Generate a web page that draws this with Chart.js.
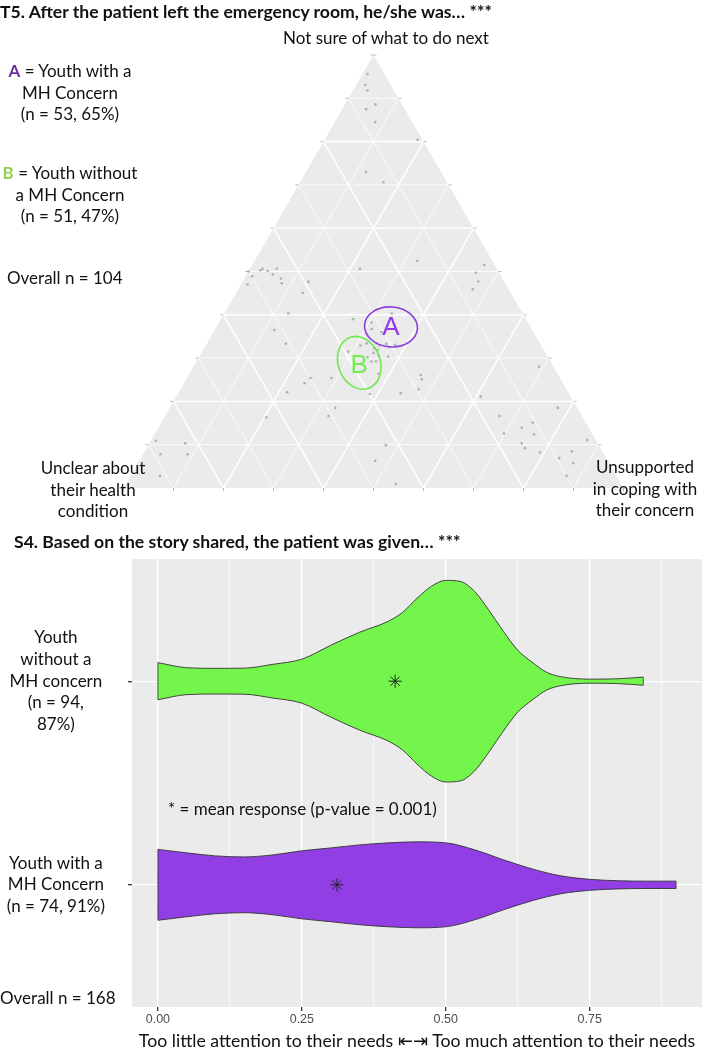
<!DOCTYPE html>
<html>
<head>
<meta charset="utf-8">
<script src="https://cdn.jsdelivr.net/npm/chart.js@4.4.0/dist/chart.umd.min.js"></script>
<style>
  body { margin: 0; background: #fff; }
  #page { position: relative; width: 702px; height: 1050px; overflow: hidden; font-family: Lato, "Open Sans", sans-serif; color: #111; }
  canvas { position: absolute; left: 0; }
  .t { position: absolute; white-space: nowrap; font-size: 17px; line-height: 21.5px; }
  .c { text-align: center; }
  .b { font-weight: bold; font-size: 17.6px; }
</style>
</head>
<body>
<div id="page">
  <canvas id="tern" width="702" height="500" style="top:0"></canvas>
  <canvas id="violin" width="702" height="550" style="top:500px"></canvas>

  <div class="t b" style="left:0; top:1px">T5. After the patient left the emergency room, he/she was… ***</div>
  <div class="t c" style="left:283px; top:27px; width:200px">Not sure of what to do next</div>
  <div class="t c" style="left:-10px; top:60px; width:160px"><span style="color:#7030A0; font-weight:bold">A</span> = Youth with a<br>MH Concern<br>(n = 53, 65%)</div>
  <div class="t c" style="left:-10px; top:162px; width:160px"><span style="color:#92D050; font-weight:bold">B</span> = Youth without<br>a MH Concern<br>(n = 51, 47%)</div>
  <div class="t" style="left:7px; top:267px">Overall n = 104</div>
  <div class="t c" style="left:23px; top:457px; width:140px">Unclear about<br>their health<br>condition</div>
  <div class="t c" style="left:575px; top:456px; width:140px">Unsupported<br>in coping with<br>their concern</div>

  <div class="t b" style="left:14px; top:531px">S4. Based on the story shared, the patient was given… ***</div>
  <div class="t" style="left:168px; top:798px">* = mean response (p-value = 0.001)</div>
  <div class="t" style="left:0; top:987px">Overall n = 168</div>
</div>

<script>
// ---- T5 ternary: one entry per response (shares of the three answers)
const notSure     = [0.956,0.931,0.918,0.886,0.875,0.845,0.804,0.730,0.706,0.525,
                     0.506,0.515,0.497,0.477,0.459,0.500,0.489,0.503,0.506,0.501,
                     0.493,0.507,0.484,0.473,0.470,0.476,0.451,0.403,0.365,0.333,
                     0.254,0.242,0.254,0.221,0.185,0.166,0.163,0.109,0.103,0.078,
                     0.078,0.028,0.315,0.403,0.390,0.382,0.367,0.360,0.333,0.334,
                     0.334,0.329,0.331,0.329,0.323,0.319,0.312,0.306,0.302,0.303,
                     0.292,0.292,0.264,0.217,0.261,0.251,0.228,0.219,0.211,0.280,
                     0.185,0.166,0.139,0.151,0.124,0.126,0.103,0.092,0.082,0.099,
                     0.063,0.009,0.111,0.085,0.069,0.057,0.028];
const unsupported = [0.010,0.018,0.029,0.061,0.048,0.081,0.186,0.120,0.167,0.325,
                     0.220,0.464,0.456,0.471,0.469,0.000,0.013,0.022,0.025,0.038,
                     0.052,0.053,0.073,0.080,0.013,0.132,0.133,0.128,0.119,0.158,
                     0.247,0.241,0.289,0.217,0.331,0.327,0.204,0.010,0.072,0.035,
                     0.089,0.059,0.292,0.335,0.264,0.305,0.313,0.336,0.359,0.319,
                     0.339,0.347,0.378,0.309,0.340,0.349,0.344,0.357,0.337,0.378,
                     0.350,0.359,0.378,0.384,0.464,0.471,0.476,0.445,0.609,0.691,
                     0.776,0.669,0.727,0.743,0.759,0.698,0.745,0.757,0.792,0.475,
                     0.472,0.540,0.872,0.854,0.837,0.871,0.872];
const unclear     = [0.034,0.051,0.053,0.053,0.077,0.074,0.010,0.150,0.127,0.150,
                     0.274,0.021,0.047,0.052,0.072,0.500,0.498,0.475,0.469,0.461,
                     0.455,0.440,0.443,0.447,0.517,0.392,0.416,0.469,0.516,0.509,
                     0.499,0.517,0.457,0.562,0.484,0.507,0.633,0.881,0.825,0.887,
                     0.833,0.913,0.393,0.262,0.346,0.313,0.320,0.304,0.308,0.347,
                     0.327,0.324,0.291,0.362,0.337,0.332,0.344,0.337,0.361,0.319,
                     0.358,0.349,0.358,0.399,0.275,0.278,0.296,0.336,0.180,0.029,
                     0.039,0.165,0.134,0.106,0.117,0.176,0.152,0.151,0.126,0.426,
                     0.465,0.451,0.017,0.061,0.094,0.072,0.100];

// group centres circled on the plot
const groupLabels = ['A', 'B'];
const groupNotSure = [0.372, 0.289];
const groupUnsupported = [0.349, 0.327];
const groupUnclear = [0.279, 0.384];

// ---- S4 violins (half width in category units)
const greenX  = [0,0.05,0.1,0.15,0.2,0.25,0.3,0.35,0.4,0.425,0.45,0.475,0.5,0.525,0.55,0.575,0.6,0.625,0.65,0.675,0.7,0.75,0.8,0.843];
const greenW  = [0.091,0.066,0.063,0.064,0.083,0.108,0.176,0.240,0.294,0.338,0.407,0.466,0.495,0.490,0.441,0.348,0.245,0.152,0.093,0.044,0.022,0.010,0.012,0.020];
const purpleX = [0,0.05,0.1,0.15,0.2,0.25,0.3,0.35,0.4,0.45,0.5,0.55,0.6,0.65,0.7,0.75,0.8,0.85,0.9];
const purpleW = [0.174,0.157,0.142,0.137,0.147,0.167,0.181,0.196,0.206,0.211,0.206,0.172,0.123,0.078,0.044,0.027,0.020,0.018,0.018];
const groupMeans = [0.412, 0.311];   // without, with
const catLabels = {
  1: ['Youth with a', 'MH Concern', '(n = 74, 91%)'],
  2: ['Youth', 'without a', 'MH concern', '(n = 94,', '87%)']
};
const xTicks = [0, 0.125, 0.25, 0.375, 0.5, 0.625, 0.75, 0.875];

const H = Math.sqrt(3) / 2;
function ternXY(t, r, l) {
  const s = t + r + l;
  t /= s; r /= s;
  return { x: r + t / 2, y: t * H };
}

const ternGrid = {
  id: 'ternGrid',
  beforeDatasetsDraw(chart) {
    const ctx = chart.ctx, xs = chart.scales.x, ys = chart.scales.y;
    const px = (t, r) => [xs.getPixelForValue(r + t / 2), ys.getPixelForValue(t * H)];
    ctx.save();
    ctx.beginPath();
    ctx.moveTo(...px(1, 0)); ctx.lineTo(...px(0, 0)); ctx.lineTo(...px(0, 1));
    ctx.closePath();
    ctx.fillStyle = '#EBEBEB';
    ctx.fill();
    ctx.strokeStyle = '#fff';
    for (let k = 1; k < 10; k++) {
      const f = k / 10;
      ctx.lineWidth = k % 2 ? 0.8 : 1.5;
      [[px(f, 0), px(f, 1 - f)], [px(0, f), px(1 - f, f)], [px(0, 1 - f), px(1 - f, 0)]].forEach(([a, b]) => {
        ctx.beginPath(); ctx.moveTo(...a); ctx.lineTo(...b); ctx.stroke();
      });
    }
    ctx.strokeStyle = '#a8a8a8';
    ctx.lineWidth = 0.8;
    for (let k = 0; k <= 10; k++) {
      const f = k / 10;
      const [x1, y1] = px(f, 0), [x2, y2] = px(f, 1 - f), [x3, y3] = px(0, f);
      ctx.beginPath();
      ctx.moveTo(x1 - 3, y1); ctx.lineTo(x1, y1);
      ctx.moveTo(x2, y2); ctx.lineTo(x2 + 3, y2);
      ctx.moveTo(x3, y3); ctx.lineTo(x3, y3 + 3);
      ctx.stroke();
    }
    ctx.restore();
  },
  afterDatasetsDraw(chart) {
    const ctx = chart.ctx, xs = chart.scales.x, ys = chart.scales.y;
    const unit = xs.getPixelForValue(1) - xs.getPixelForValue(0);
    const look = [
      { color: '#8B3FE0', text: '#9437E8', rx: 0.053, ry: 0.040, rot: 0.08, dy: 1 },
      { color: '#6EE84A', text: '#74EC4E', rx: 0.042, ry: 0.054, rot: -0.35, dy: 3 }
    ];
    ctx.save();
    groupLabels.forEach((lab, i) => {
      const p = ternXY(groupNotSure[i], groupUnsupported[i], groupUnclear[i]);
      const cx = xs.getPixelForValue(p.x), cy = ys.getPixelForValue(p.y);
      const s = look[i];
      ctx.beginPath();
      ctx.ellipse(cx, cy, s.rx * unit, s.ry * unit, s.rot, 0, Math.PI * 2);
      ctx.strokeStyle = s.color;
      ctx.lineWidth = 1.6;
      ctx.stroke();
      ctx.fillStyle = s.text;
      ctx.font = '26px "Liberation Sans", Arial, sans-serif';
      ctx.textAlign = 'center';
      ctx.textBaseline = 'middle';
      ctx.fillText(lab, cx, cy + s.dy);
    });
    ctx.restore();
  }
};

new Chart(document.getElementById('tern'), {
  type: 'scatter',
  data: {
    datasets: [{
      data: notSure.map((t, i) => ternXY(t, unsupported[i], unclear[i])),
      pointRadius: 1.3,
      backgroundColor: 'rgba(150,150,150,0.7)',
      borderWidth: 0,
      clip: false
    }]
  },
  options: {
    responsive: false,
    animation: false,
    layout: { autoPadding: false, padding: { left: 123.5, right: 78.5, top: 55, bottom: 12 } },
    plugins: { legend: { display: false }, tooltip: { enabled: false } },
    scales: {
      x: { type: 'linear', min: 0, max: 1, display: false },
      y: { type: 'linear', min: 0, max: H, display: false }
    }
  },
  plugins: [ternGrid]
});

// each violin = upper edge (filled down to the lower edge), lower edge and two end caps
function violinSets(xs, ws, centre, color) {
  const last = xs.length - 1;
  const edge = { showLine: true, cubicInterpolationMode: 'monotone', pointRadius: 0,
                 borderColor: '#333', borderWidth: 0.9 };
  return [
    Object.assign({ data: xs.map((x, i) => ({ x: x, y: centre + ws[i] })), fill: '+1',
                    backgroundColor: color, order: 3 }, edge),
    Object.assign({ data: xs.map((x, i) => ({ x: x, y: centre - ws[i] })), fill: false,
                    order: 2 }, edge),
    Object.assign({ data: [{ x: xs[0], y: centre - ws[0] }, { x: xs[0], y: centre + ws[0] }],
                    fill: false, order: 1 }, edge),
    Object.assign({ data: [{ x: xs[last], y: centre - ws[last] }, { x: xs[last], y: centre + ws[last] }],
                    fill: false, order: 1 }, edge)
  ];
}

const panelBg = {
  id: 'panelBg',
  beforeDraw(chart) {
    const a = chart.chartArea, ctx = chart.ctx;
    ctx.save();
    ctx.fillStyle = '#EBEBEB';
    ctx.fillRect(a.left, a.top, a.right - a.left, a.bottom - a.top);
    ctx.restore();
  }
};

const isMajor = v => Math.abs(v * 4 - Math.round(v * 4)) < 1e-6;

new Chart(document.getElementById('violin'), {
  type: 'scatter',
  data: {
    datasets: [
      { data: [{ x: groupMeans[0], y: 2 }, { x: groupMeans[1], y: 1 }], pointStyle: 'star',
        pointRadius: 6.5, borderColor: '#222', borderWidth: 1, showLine: false, order: 0 },
      ...violinSets(greenX, greenW, 2, '#74F54C'),
      ...violinSets(purpleX, purpleW, 1, '#913FE5')
    ]
  },
  options: {
    responsive: false,
    animation: false,
    layout: { autoPadding: false, padding: { top: 59, right: 0, left: 0, bottom: 0 } },
    plugins: { legend: { display: false }, tooltip: { enabled: false } },
    scales: {
      x: {
        type: 'linear', min: -0.045, max: 0.945,
        afterBuildTicks: s => { s.ticks = xTicks.map(v => ({ value: v })); },
        afterFit: s => { s.height = 43; s.paddingLeft = 0; s.paddingRight = 0; },
        ticks: {
          autoSkip: false, maxRotation: 0, padding: 1,
          callback: v => isMajor(v) ? v.toFixed(2) : '',
          font: { family: '"Liberation Sans", Arial, sans-serif', size: 12.5 },
          color: '#4D4D4D'
        },
        grid: {
          color: '#fff',
          lineWidth: c => isMajor(c.tick.value) ? 1.3 : 0.6,
          tickColor: c => isMajor(c.tick.value) ? '#333' : 'rgba(0,0,0,0)',
          tickLength: 4
        },
        border: { display: false },
        title: {
          display: true,
          text: 'Too little attention to their needs ⇤⇥ Too much attention to their needs',
          font: { family: 'Lato', size: 17.7, lineHeight: 1 },
          color: '#111',
          padding: { top: 0, bottom: 0 }
        }
      },
      y: {
        type: 'linear', min: 0.4, max: 2.6,
        afterBuildTicks: s => { s.ticks = [{ value: 1 }, { value: 2 }]; },
        afterFit: s => { s.width = 132; s.paddingTop = 0; s.paddingBottom = 0; },
        ticks: {
          callback: v => catLabels[v],
          crossAlign: 'center', padding: 23,
          font: { family: 'Lato', size: 17, lineHeight: 1.27 },
          color: '#111'
        },
        grid: { color: '#fff', lineWidth: 1.3, tickColor: '#333', tickLength: 4 },
        border: { display: false }
      }
    }
  },
  plugins: [panelBg]
});
</script>
</body>
</html>
